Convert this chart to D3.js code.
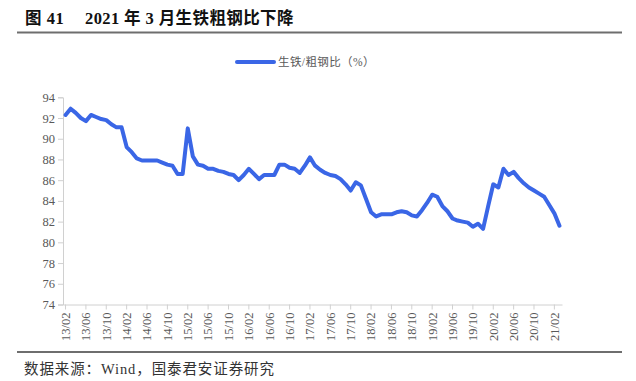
<!DOCTYPE html>
<html><head><meta charset="utf-8">
<script src="https://cdn.jsdelivr.net/npm/d3@7"></script>
<style>
html,body{margin:0;padding:0;background:#fff;}
svg{display:block;}
</style>
</head><body>
<svg id="c" width="636" height="381"></svg>
<script>
const titleNum = "图 41";
const titleText = "2021 年 3 月生铁粗钢比下降";
const sourceText = "数据来源：Wind，国泰君安证券研究";
const seriesName = "生铁/粗钢比（%）";
const months = [];
for (let y = 13; y <= 21; y++) for (let mo = 1; mo <= 12; mo++) {
  const lab = y + "/" + String(mo).padStart(2, "0");
  if ((y === 13 && mo < 2) || (y === 21 && mo > 3)) continue;
  months.push(lab);
}
const ratio = [
  92.3, 92.9, 92.5, 92.0, 91.7, 92.3, 92.1, 91.9, 91.8, 91.4, 91.1, 91.1,
  89.2, 88.7, 88.1, 87.9, 87.9, 87.9, 87.9, 87.7, 87.5, 87.4, 86.6, 86.6,
  91.0, 88.3, 87.5, 87.4, 87.1, 87.1, 86.9, 86.8, 86.6, 86.5, 86.0, 86.5,
  87.1, 86.6, 86.1, 86.5, 86.5, 86.5, 87.5, 87.5, 87.2, 87.1, 86.7, 87.4,
  88.2, 87.4, 87.0, 86.7, 86.5, 86.4, 86.1, 85.6, 85.0, 85.8, 85.5, 84.2,
  82.9, 82.5, 82.7, 82.7, 82.7, 82.9, 83.0, 82.9, 82.6, 82.5, 83.1, 83.8,
  84.6, 84.4, 83.5, 83.0, 82.3, 82.1, 82.0, 81.9, 81.5, 81.8, 81.3, 83.5,
  85.6, 85.3, 87.1, 86.5, 86.8, 86.2, 85.7, 85.3, 85.0, 84.7, 84.4, 83.6,
  82.8, 81.6
];
const xTickLabels = months.filter((d, i) => i % 4 === 0);
const yTicks = [74, 76, 78, 80, 82, 84, 86, 88, 90, 92, 94];

const svg = d3.select("#c");
const serif = "'Liberation Serif','Times New Roman','Noto Serif CJK SC','Noto Sans CJK SC',serif";
const cjk = "'Liberation Serif','Noto Sans CJK SC',sans-serif";
const blue = "#3a66e6";
const grey = "#595959";

// title
svg.append("text").attr("x", 25).attr("y", 24)
  .attr("font-family", cjk).attr("font-weight", "bold").attr("font-size", 16.5)
  .attr("letter-spacing", 0.5).attr("fill", "#111").text(titleNum);
svg.append("text").attr("x", 85).attr("y", 24)
  .attr("font-family", cjk).attr("font-weight", "bold").attr("font-size", 16.5)
  .attr("letter-spacing", 0.4).attr("fill", "#111").text(titleText);
svg.append("line").attr("x1", 17).attr("x2", 622).attr("y1", 32.5).attr("y2", 32.5)
  .attr("stroke", "#6e6e6e").attr("stroke-width", 2);

// legend
svg.append("line").attr("x1", 237).attr("x2", 274).attr("y1", 62).attr("y2", 62)
  .attr("stroke", blue).attr("stroke-width", 4).attr("stroke-linecap", "round");
svg.append("text").attr("x", 278).attr("y", 66)
  .attr("font-family", cjk).attr("font-size", 11.5).attr("letter-spacing", 0.4)
  .attr("fill", grey).text(seriesName);

const x = d3.scaleBand().domain(months).range([63, 562]).paddingInner(0).paddingOuter(0);
const y = d3.scaleLinear().domain([74, 94]).range([304.5, 97.3]);

// y axis
const yAxis = svg.append("g").attr("transform", "translate(63,0)")
  .call(d3.axisLeft(y).tickValues(yTicks).tickSize(5).tickPadding(3).tickFormat(d3.format("d")));
yAxis.select(".domain").attr("stroke", "#d0d0d0");
yAxis.selectAll(".tick line").attr("stroke", "#d0d0d0");
yAxis.selectAll("text").attr("font-family", serif).attr("font-size", 12.5).attr("fill", grey);

// x axis
const xAxis = svg.append("g").attr("transform", "translate(0,304.5)")
  .call(d3.axisBottom(x).tickValues(xTickLabels).tickSize(5).tickSizeOuter(0));
xAxis.select(".domain").attr("stroke", "#d0d0d0");
xAxis.selectAll(".tick line").attr("stroke", "#d0d0d0");
xAxis.selectAll("text")
  .attr("font-family", serif).attr("font-size", 12.5).attr("fill", grey)
  .attr("transform", "rotate(-90)")
  .attr("text-anchor", "end").attr("dy", "0.35em").attr("x", -8).attr("y", 0);

// line
const line = d3.line()
  .x((d, i) => x(months[i]) + x.bandwidth() / 2)
  .y(d => y(d));
svg.append("path").datum(ratio).attr("d", line)
  .attr("fill", "none").attr("stroke", blue).attr("stroke-width", 4)
  .attr("stroke-linejoin", "round").attr("stroke-linecap", "round");

// footer
svg.append("line").attr("x1", 17).attr("x2", 622).attr("y1", 352).attr("y2", 352)
  .attr("stroke", "#6e6e6e").attr("stroke-width", 2);
svg.append("text").attr("x", 24).attr("y", 374)
  .attr("font-family", cjk).attr("font-size", 14.5).attr("letter-spacing", 0.9)
  .attr("fill", "#333").text(sourceText);
</script>
</body></html>
